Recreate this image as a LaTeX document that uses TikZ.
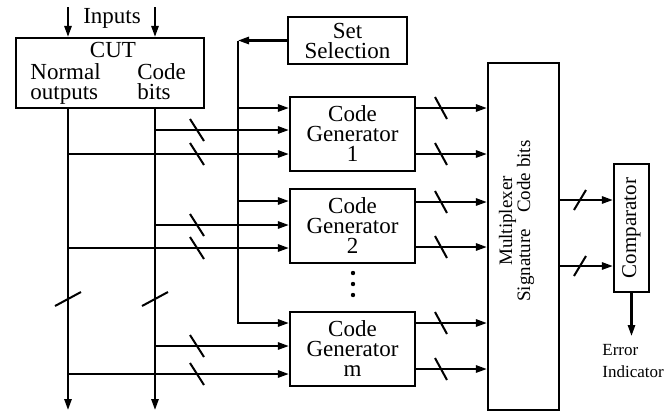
\documentclass[tikz,border=0pt]{standalone}
\usepackage{fontspec}
\setmainfont{Liberation Serif}
\usetikzlibrary{positioning, arrows.meta, calc}

\begin{document}
\begin{tikzpicture}[
    x=0.5pt, y=-0.5pt,
    >={Triangle[length=5.5pt, width=3.6pt]},
    font=\fontsize{11.5}{10}\selectfont,
    block/.style={draw, rectangle, line width=1.1pt, inner sep=1pt, align=center},
    genblock/.style={block, minimum width=62.5pt, minimum height=37pt},
    txt/.style={inner sep=0pt, align=left},
    wire/.style={draw, line width=1.1pt},
    arrow/.style={wire, ->},
    busmark/.style={draw, line width=1pt}
]

\useasboundingbox (0,0) rectangle (665,414);

% ==========================================
% CUT AND ITS INPUTS
% ==========================================

\node[block, minimum width=94pt, minimum height=35pt] (cut) at (110,73) {};
\node[txt] (cuttitle) at (113,50) {CUT};
\node[txt, anchor=north west] (normlbl) at (30,63) {Normal\\outputs};
\node[txt, anchor=north west] (codelbl) at (137,63) {Code\\bits};

\coordinate (in1) at (68,7);
\coordinate (in2) at (155,7);
\draw[arrow] (in1) -- (in1 |- cut.north);
\draw[arrow] (in2) -- (in2 |- cut.north);
\node[txt] (inlbl) at (112,18) {Inputs};

% ==========================================
% SET SELECTION AND CODE GENERATORS
% ==========================================

\node[block, minimum width=59.5pt, minimum height=23.5pt] (setsel) at (347.5,40.5) {Set\\Selection};

\node[genblock] (gen1) at (352.5,134) {Code\\Generator\\1};
\node[genblock] (gen2) at (352.5,226) {Code\\Generator\\2};
\node[genblock] (genm) at (352.5,349) {Code\\Generator\\m};

\foreach \y in {273,284,295} \fill (353,\y) circle (1.1pt);

% ==========================================
% MULTIPLEXER AND COMPARATOR
% ==========================================

\node[block, minimum width=35.5pt, minimum height=173.5pt] (mux) at (523.5,236.5) {};
\node[txt, rotate=90, align=center, font=\fontsize{9.5}{9}\selectfont] (muxlbl) at (516.5,221)
    {Multiplexer\\Signature\hspace{8pt}Code bits};

\node[block, minimum width=17.5pt, minimum height=64pt] (comp) at (631.5,228) {};
\node[txt, rotate=90, font=\fontsize{10.5}{10}\selectfont] (complbl) at (comp.center) {Comparator};

\coordinate (err) at (631.5,336);
\draw[arrow] (comp.south) -- (err);
\node[txt, anchor=north west, font=\fontsize{8.5}{11}\selectfont] (errlbl) at (602,344) {Error\\Indicator};

% ==========================================
% BUSES
% ==========================================

\coordinate (nbot) at (68,410);
\coordinate (cbot) at (155,410);
\draw[arrow] (cut.south -| nbot) -- (nbot);
\draw[arrow] (cut.south -| cbot) -- (cbot);
\draw[busmark] (68,299) +(-13,7) -- +(13,-7);
\draw[busmark] (155,299) +(-13,7) -- +(13,-7);

\coordinate (seltop) at (setsel.west -| 238,0);
\coordinate (selbot) at (238,323);
\draw[arrow] (setsel.west) -- (seltop);
\draw[arrow] (seltop) -- (selbot) -- (genm.west |- selbot);
\draw[arrow] (seltop |- 0,108) -- (gen1.west |- 0,108);
\draw[arrow] (seltop |- 0,201) -- (gen2.west |- 0,201);

% inputs from the CUT buses
\foreach \g/\yc/\yn in {gen1/130/154, gen2/225/248, genm/346/374} {
    \draw[arrow] (cbot |- 0,\yc) -- (\g.west |- 0,\yc);
    \draw[arrow] (nbot |- 0,\yn) -- (\g.west |- 0,\yn);
    \draw[busmark] (197,\yc) +(-7,-11) -- +(7,11);
    \draw[busmark] (197,\yn) +(-7,-11) -- +(7,11);
}

% generator outputs into the multiplexer
\foreach \g/\ya/\yb in {gen1/108/154, gen2/202/247, genm/323/369} {
    \draw[arrow] (\g.east |- 0,\ya) -- (mux.west |- 0,\ya);
    \draw[arrow] (\g.east |- 0,\yb) -- (mux.west |- 0,\yb);
    \draw[busmark] (441,\ya) +(-6,-11) -- +(6,11);
    \draw[busmark] (441,\yb) +(-6,-11) -- +(6,11);
}

\foreach \y in {200,266} {
    \draw[arrow] (mux.east |- 0,\y) -- (comp.west |- 0,\y);
    \draw[busmark] (580,\y) +(-6,10) -- +(6,-10);
}

\end{tikzpicture}
\end{document}
